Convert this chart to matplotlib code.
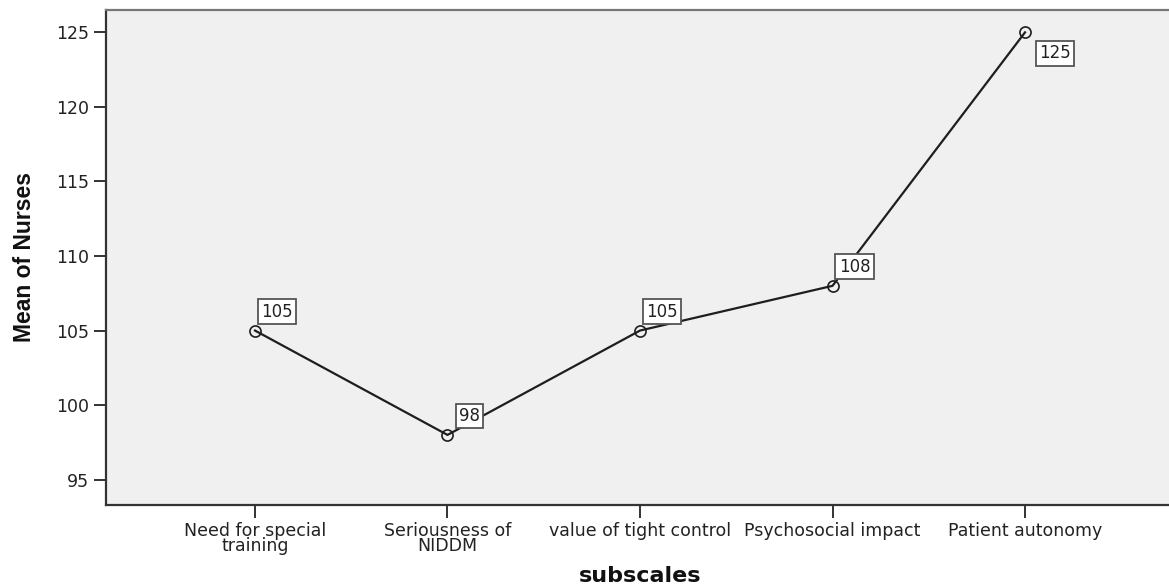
import matplotlib
matplotlib.use("Agg")
from matplotlib import pyplot as plt

# data
subscales = ["Need for special\ntraining", "Seriousness of\nNIDDM",
             "value of tight control", "Psychosocial impact", "Patient autonomy"]
means = [105, 98, 105, 108, 125]
yticks = [95, 100, 105, 110, 115, 120, 125]

plt.rcParams['font.family'] = ['DejaVu Sans']

fig = plt.figure(figsize=(11.69, 5.87), dpi=100)
ax = fig.add_axes([106 / 1169, 1 - 505 / 587, 1068 / 1169, 495 / 587])
ax.set_facecolor('#f0f0f0')

x = list(range(len(means)))
ax.plot(x, means, color='#1e1e1e', lw=1.6, marker='o', markersize=8,
        markerfacecolor='none', markeredgecolor='#1e1e1e', markeredgewidth=1.2)

# value labels in boxes
for i, v in enumerate(means):
    if v == max(means):
        off = (30, -21)
    else:
        off = (22, 19)
    ax.annotate(str(v), (i, v), xytext=off, textcoords='offset pixels',
                ha='center', va='center', fontsize=12, color='#222222',
                bbox=dict(boxstyle='square,pad=0.2', fc='white', ec='#555555', lw=1.3))

ax.set_xlim(-0.774, 4.774)
ax.set_ylim(93.3, 126.5)
ax.set_xticks(x)
ax.set_xticklabels(subscales, fontsize=12.5, linespacing=0.8)
ax.set_yticks(yticks)
ax.set_yticklabels([str(t) for t in yticks], fontsize=12.5)
ax.tick_params(axis='both', direction='out', length=9, width=1.4, color='#333333',
               labelcolor='#222222')
ax.tick_params(axis='x', pad=3)

for side in ['left', 'bottom']:
    ax.spines[side].set_color('#333333')
    ax.spines[side].set_linewidth(1.6)
ax.spines['top'].set_color('#777777')
ax.spines['top'].set_linewidth(1.6)
ax.spines['right'].set_visible(False)

fig.text(640 / 1169, 1 - 576 / 587, 'subscales', ha='center', va='center',
         fontsize=16, fontweight='bold', color='#111111')
fig.text(25 / 1169, 1 - 257 / 587, 'Mean of Nurses', ha='center', va='center',
         rotation=90, fontsize=16.5, fontweight='bold', color='#111111',
         family='Liberation Sans')

fig.savefig('out.png', dpi=100)
